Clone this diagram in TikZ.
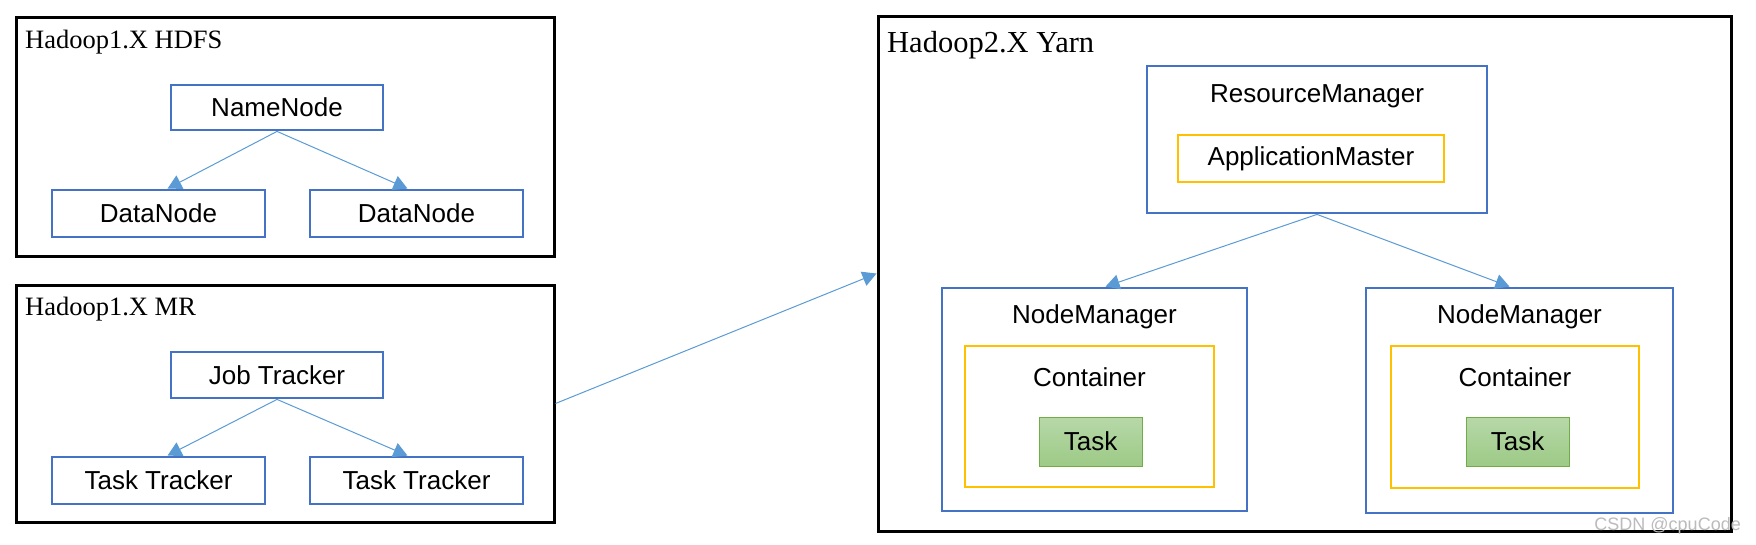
\documentclass[tikz,border=0pt]{standalone}
\usepackage{fontspec}
\setmainfont{Liberation Serif}
\newfontfamily\arialf{Liberation Sans}
\usetikzlibrary{arrows.meta,calc}
\definecolor{boxblue}{HTML}{4472C4}
\definecolor{boxgold}{HTML}{FFC000}
\definecolor{arrowblue}{HTML}{5B9BD5}
\definecolor{taskedge}{HTML}{70AD47}
\definecolor{tasktop}{HTML}{B7D8A9}
\definecolor{taskbot}{HTML}{9DCA86}
\definecolor{wmgray}{HTML}{BBBBBB}
\begin{document}
\begin{tikzpicture}[x=1pt,y=-1pt,
  outerbox/.style={draw=black,line width=3pt,inner sep=0pt,rectangle},
  bluebox/.style={draw=boxblue,line width=2.8pt,inner sep=0pt,rectangle,font=\arialf\fontsize{26}{30}\selectfont},
  goldbox/.style={draw=boxgold,line width=2.8pt,inner sep=0pt,rectangle,font=\arialf\fontsize{26}{30}\selectfont},
  taskbox/.style={draw=taskedge,line width=1pt,top color=tasktop,bottom color=taskbot,inner sep=0pt,rectangle,font=\arialf\fontsize{26}{30}\selectfont},
  titletext/.style={anchor=base west,inner sep=0pt},
  lbl/.style={anchor=base,inner sep=0pt,font=\arialf\fontsize{26}{30}\selectfont},
  conn/.style={draw=arrowblue,line width=1pt,-{Triangle[length=14pt,width=15pt]}}
]
\useasboundingbox (0,0) rectangle (1756,544);

% Hadoop1.X HDFS
\node[outerbox,minimum width=538pt,minimum height=239pt] (hdfs) at (285,136.5) {};
\node[titletext,font=\fontsize{26.5}{30}\selectfont] (hdfst) at (25,48) {Hadoop1.X HDFS};
\node[bluebox,minimum width=212pt,minimum height=45pt] (nn) at (277,107.5) {NameNode};
\node[bluebox,minimum width=213pt,minimum height=47pt] (dn1) at (158.5,213.5) {DataNode};
\node[bluebox,minimum width=213pt,minimum height=47pt] (dn2) at (416.5,213.5) {DataNode};
\draw[conn] (nn.south) -- ([xshift=9pt]dn1.north);
\draw[conn] (nn.south) -- ([xshift=-9pt]dn2.north);

% Hadoop1.X MR
\node[outerbox,minimum width=538pt,minimum height=237pt] (mr) at (285,403.5) {};
\node[titletext,font=\fontsize{26.5}{30}\selectfont] (mrt) at (25,315) {Hadoop1.X MR};
\node[bluebox,minimum width=212pt,minimum height=46pt] (jt) at (277,375) {Job Tracker};
\node[bluebox,minimum width=213pt,minimum height=47pt] (tt1) at (158.5,480.5) {Task Tracker};
\node[bluebox,minimum width=213pt,minimum height=47pt] (tt2) at (416.5,480.5) {Task Tracker};
\draw[conn] (jt.south) -- ([xshift=9pt]tt1.north);
\draw[conn] (jt.south) -- ([xshift=-9pt]tt2.north);

% Hadoop2.X Yarn
\node[outerbox,minimum width=853pt,minimum height=515pt] (yarn) at (1304.5,273.5) {};
\node[titletext,font=\fontsize{30.5}{34}\selectfont] (yarnt) at (887,52) {Hadoop2.X Yarn};
\draw[conn] (mr.east) -- (yarn.west);

\node[bluebox,minimum width=340pt,minimum height=147pt] (rm) at (1317,139.5) {};
\node[lbl] (rmt) at (1317,102) {ResourceManager};
\node[goldbox,minimum width=266pt,minimum height=47pt] (am) at (1311,158.5) {ApplicationMaster};

\node[bluebox,minimum width=305pt,minimum height=223pt] (nm1) at (1094.5,399.5) {};
\node[lbl] (nm1t) at (1094.5,323) {NodeManager};
\node[goldbox,minimum width=249pt,minimum height=141pt] (c1) at (1089.5,416.5) {};
\node[lbl] (c1t) at (1089.5,386) {Container};
\node[taskbox,minimum width=103pt,minimum height=49pt] (t1) at (1090.5,441.5) {Task};

\node[bluebox,minimum width=307pt,minimum height=225pt] (nm2) at (1519.5,400.5) {};
\node[lbl] (nm2t) at (1519.5,323) {NodeManager};
\node[goldbox,minimum width=248pt,minimum height=142pt] (c2) at (1515,417) {};
\node[lbl] (c2t) at (1515,386) {Container};
\node[taskbox,minimum width=103pt,minimum height=49pt] (t2) at (1517.5,441.5) {Task};

\draw[conn] (rm.south) -- ([xshift=11pt]nm1.north);
\draw[conn] (rm.south) -- ([xshift=-10pt]nm2.north);

\node[anchor=base east,inner sep=0pt,text=wmgray,font=\arialf\fontsize{18}{20}\selectfont] (wm) at (1741,530) {CSDN @cpuCode};
\end{tikzpicture}
\end{document}
